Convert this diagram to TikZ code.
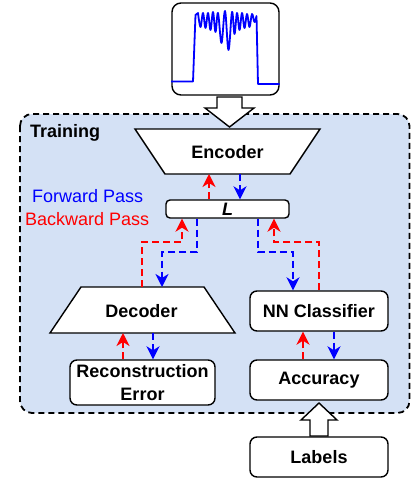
\documentclass[tikz,border=0pt]{standalone}
\usepackage{fontspec}
\setmainfont{Liberation Sans}
\usetikzlibrary{arrows.meta}
\definecolor{trainbg}{RGB}{212,225,245}
\begin{document}
\begin{tikzpicture}[x=1pt,y=-1pt,
  box/.style={draw, line width=1.4pt, fill=white, rounded corners=7pt, inner sep=0pt, align=center, font=\fontsize{18}{23}\selectfont\bfseries},
  shp/.style={draw, line width=1.4pt, fill=white, line join=miter},
  lbl/.style={font=\fontsize{18}{20}\selectfont\bfseries, inner sep=0pt},
  plain/.style={font=\fontsize{18}{20}\selectfont, inner sep=0pt},
  fw/.style={draw=blue, line width=2pt, dash pattern=on 7pt off 4pt, -{Stealth[length=13pt,width=13pt,inset=4pt]}},
  bw/.style={fw, draw=red},
  blk/.style={draw, line width=1.4pt, fill=white, line join=miter}]
\useasboundingbox (0,0) rectangle (411,479);

% training container
\draw[line width=1.8pt, dash pattern=on 6pt off 4pt, fill=trainbg, rounded corners=12pt] (20,114) rectangle (409.5,413);
\node[lbl, anchor=base west] (trn) at (30,137) {Training};

% signal box
\node[box, minimum width=107pt, minimum height=92pt, rounded corners=9pt] (sig) at (225.5,49) {};
\draw[blue, line width=1.8pt, line join=round] (171,81.5) -- (193,81.5) -- (195.5,15)
  -- plot[smooth, tension=0.6] coordinates {(198,13) (200.5,27) (203,13) (205.5,28) (208,13) (210.5,30) (213,12) (215.5,32) (218,13) (221.5,43) (225,11) (228.5,50) (232,12) (234.5,34) (237,13) (239.5,30) (242,13) (244.5,28) (247,14) (249.5,27) (252,14) (254.5,22) (256.5,16)}
  -- (258,84) -- (279.5,84);

% top block arrow
\draw[blk] (217,97) -- (242,97) -- (242,108) -- (254,108) -- (229.5,127) -- (205,108) -- (217,108) -- cycle;

% encoder
\draw[shp] (135,129) -- (320,129) -- (290,174) -- (165,174) -- cycle;
\node[lbl, anchor=base] (enc) at (227.5,158.5) {Encoder};
\coordinate (encB) at (227.5,174);

% L box
\node[box, rounded corners=4pt, minimum width=123pt, minimum height=18pt] (L) at (227.5,209) {\itshape L};

% legend
\node[plain, anchor=base west, text=blue] (fwd) at (32,202) {Forward Pass};
\node[plain, anchor=base west, text=red] (bwd) at (25,225) {Backward Pass};

% decoder
\draw[shp] (81,287) -- (204,287) -- (235,333) -- (50,333) -- cycle;
\node[lbl, anchor=base] (dec) at (141.5,317) {Decoder};
\coordinate (decT) at (142.5,287);
\coordinate (decB) at (142.5,333);

% boxes
\node[box, minimum width=145pt, minimum height=45pt] (rec) at (142.5,382.5) {Reconstruction\\Error};
\node[box, minimum width=138pt, minimum height=40pt] (nn) at (319,311) {NN Classifier};
\node[box, minimum width=138pt, minimum height=40pt] (acc) at (319,380) {Accuracy};
\node[box, minimum width=138pt, minimum height=40pt] (lab) at (319,457) {Labels};

% bottom block arrow
\draw[blk] (310,436) -- (310,420) -- (301,420) -- (319,403) -- (337,420) -- (328,420) -- (328,436) -- cycle;

% connectors
\coordinate (c1) at (209,0);
\coordinate (c2) at (240,0);
\draw[bw] (L.north -| c1) -- (encB -| c1);
\draw[fw] (encB -| c2) -- (L.north -| c2);

\coordinate (c3) at (142,242);
\coordinate (c4) at (182,0);
\draw[bw] (decT -| c3) -- (c3) -| (L.south -| c4);
\coordinate (c5) at (197,252);
\coordinate (c6) at (162,0);
\draw[fw] (L.south -| c5) -- (c5) -| (decT -| c6);

\coordinate (c7) at (258,252);
\coordinate (c8) at (293,0);
\draw[fw] (L.south -| c7) -- (c7) -| (nn.north -| c8);
\coordinate (c9) at (319,242);
\coordinate (c10) at (274,0);
\draw[bw] (nn.north -| c9) -- (c9) -| (L.south -| c10);

\coordinate (c11) at (123,0);
\coordinate (c12) at (153,0);
\draw[bw] (rec.north -| c11) -- (decB -| c11);
\draw[fw] (decB -| c12) -- (rec.north -| c12);

\coordinate (c13) at (303,0);
\coordinate (c14) at (334,0);
\draw[bw] (acc.north -| c13) -- (nn.south -| c13);
\draw[fw] (nn.south -| c14) -- (acc.north -| c14);
\end{tikzpicture}
\end{document}
